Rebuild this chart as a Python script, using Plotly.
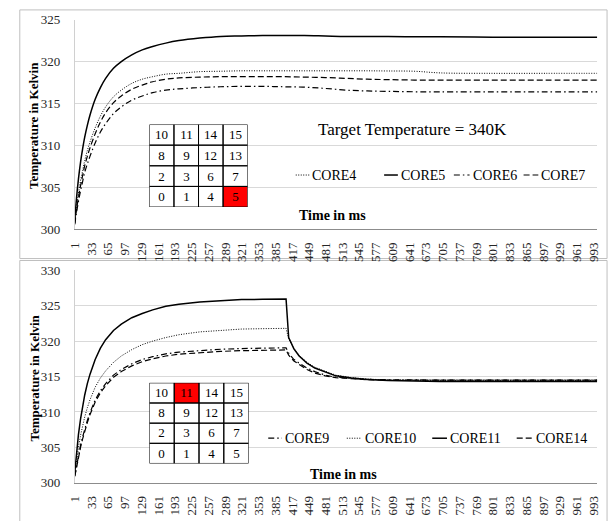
import plotly.graph_objects as go

# ---------------- data ----------------
TICKS = [1, 33, 65, 97, 129, 161, 193, 225, 257, 289, 321, 353, 385, 417, 449, 481,
         513, 545, 577, 609, 641, 673, 705, 737, 769, 801, 833, 865, 897, 929, 961, 993]

# top chart (cores 4-7), sampled times in ms
T_TOP = [1, 4, 8, 12, 16, 20, 25, 30, 40, 50, 60, 75, 90, 110, 130, 150, 175, 200, 240, 280,
         320, 360, 400, 440, 480, 520, 560, 600, 650, 700, 800, 900, 1000]
CORE4 = [300.8, 302.5, 304.3, 305.8, 307.0, 308.2, 309.4, 310.4, 312.1, 313.5,
         314.6, 315.8, 316.6, 317.4, 317.9, 318.2, 318.5, 318.6, 318.8, 318.85,
         318.9, 318.9, 318.9, 318.9, 318.9, 318.9, 318.9, 318.88, 318.85, 318.65,
         318.6, 318.6, 318.6]
CORE5 = [301.0, 303.5, 306.0, 308.0, 309.6, 311.0, 312.4, 313.6, 315.5, 316.9,
         318.0, 319.2, 320.0, 320.8, 321.4, 321.8, 322.2, 322.5, 322.8, 323.0,
         323.05, 323.1, 323.1, 323.1, 323.05, 323.0, 323.0, 323.0, 322.95, 322.95,
         322.9, 322.9, 322.9]
CORE6 = [300.6, 301.9, 303.3, 304.6, 305.7, 306.8, 307.8, 308.7, 310.3, 311.6,
         312.6, 313.8, 314.6, 315.4, 315.9, 316.3, 316.6, 316.75, 316.9, 317.0,
         317.05, 317.05, 317.0, 316.95, 316.8, 316.6, 316.5, 316.45, 316.4, 316.4,
         316.4, 316.4, 316.4]
CORE7 = [300.7, 302.2, 303.8, 305.2, 306.4, 307.6, 308.7, 309.7, 311.4, 312.8,
         313.9, 315.1, 315.9, 316.7, 317.2, 317.6, 317.9, 318.05, 318.15, 318.2,
         318.2, 318.2, 318.2, 318.15, 318.1, 318.0, 317.9, 317.85, 317.8, 317.8,
         317.8, 317.8, 317.8]

# bottom chart (cores 9, 10, 11, 14)
T_BOT = [1, 4, 8, 12, 16, 20, 25, 30, 40, 50, 60, 75, 90, 110, 130, 150, 175, 200, 240, 280,
         320, 360, 400, 405, 410, 420, 430, 445, 460, 480, 500, 530, 560, 600, 650, 700,
         800, 900, 1000]
CORE9 = [301.0, 302.3, 303.9, 305.3, 306.5, 307.6, 308.8, 309.9, 311.7, 313.0,
         314.0, 315.2, 316.0, 316.8, 317.4, 317.8, 318.2, 318.45, 318.7, 318.85,
         318.95, 319.0, 319.05, 319.05, 318.3, 317.4, 316.9, 316.2, 315.7, 315.2,
         314.9, 314.7, 314.6, 314.55, 314.5, 314.5, 314.5, 314.5, 314.5]
CORE10 = [301.2, 303.0, 305.0, 306.7, 308.1, 309.3, 310.6, 311.7, 313.5, 314.8,
          315.8, 317.0, 317.9, 318.8, 319.5, 320.0, 320.5, 320.9, 321.3, 321.5,
          321.7, 321.75, 321.8, 321.8, 320.3, 319.0, 318.0, 317.0, 316.3, 315.7,
          315.2, 314.85, 314.65, 314.5, 314.45, 314.45, 314.45, 314.45, 314.45]
CORE11 = [301.5, 304.0, 306.8, 309.0, 310.8, 312.4, 314.0, 315.3, 317.4, 319.0,
          320.2, 321.5, 322.4, 323.3, 323.9, 324.4, 324.9, 325.2, 325.5, 325.7,
          325.85, 325.9, 325.95, 325.95, 320.5, 318.9, 317.9, 316.9, 316.2, 315.6,
          315.1, 314.8, 314.6, 314.45, 314.35, 314.3, 314.3, 314.3, 314.3]
CORE14 = [300.9, 302.1, 303.6, 305.0, 306.2, 307.3, 308.5, 309.6, 311.4, 312.7,
          313.7, 314.9, 315.7, 316.5, 317.1, 317.5, 317.9, 318.15, 318.4, 318.55,
          318.65, 318.7, 318.75, 318.75, 318.0, 317.2, 316.7, 316.0, 315.5, 315.1,
          314.85, 314.65, 314.55, 314.5, 314.5, 314.5, 314.5, 314.5, 314.5]

GRID_LABELS = [[10, 11, 14, 15], [8, 9, 12, 13], [2, 3, 6, 7], [0, 1, 4, 5]]
HIGHLIGHT_TOP = 5
HIGHLIGHT_BOT = 11

# ---------------- styles ----------------
W, H = 613, 521
FONT = "Liberation Serif"
STY = {
    "CORE4": dict(color="#000", width=1, dash="1px,1.5px"),
    "CORE5": dict(color="#000", width=1.5, dash="solid"),
    "CORE6": dict(color="#000", width=1.2, dash="6px,3px,1.5px,3px"),
    "CORE7": dict(color="#000", width=1.2, dash="6px,3px"),
    "CORE9": dict(color="#000", width=1.2, dash="6px,3px,1.5px,3px"),
    "CORE10": dict(color="#000", width=1, dash="1px,1.5px"),
    "CORE11": dict(color="#000", width=1.5, dash="solid"),
    "CORE14": dict(color="#000", width=1.2, dash="6px,3px"),
}

def px2x(px):
    return px / W

def px2y(py):
    return 1 - py / H

fig = go.Figure()

top_series = [("CORE4", CORE4), ("CORE5", CORE5), ("CORE6", CORE6), ("CORE7", CORE7)]
bot_series = [("CORE9", CORE9), ("CORE10", CORE10), ("CORE11", CORE11), ("CORE14", CORE14)]

for name, vals in top_series:
    fig.add_trace(go.Scatter(x=T_TOP, y=vals, mode="lines", name=name, line=STY[name],
                             line_shape="spline", showlegend=False, xaxis="x", yaxis="y"))
for name, vals in bot_series:
    fig.add_trace(go.Scatter(x=T_BOT, y=vals, mode="lines", name=name, line=STY[name],
                             line_shape="linear", showlegend=False, xaxis="x2", yaxis="y2"))

# inset core grids (heatmaps)
def add_grid(hl, xa, ya):
    z = [[1 if v == hl else 0 for v in row] for row in GRID_LABELS]
    txt = [[str(v) for v in row] for row in GRID_LABELS]
    fig.add_trace(go.Heatmap(z=z, text=txt, texttemplate="%{text}",
                             textfont=dict(family=FONT, size=13, color="#000"),
                             colorscale=[[0, "#ffffff"], [1, "#ff0000"]], zmin=0, zmax=1,
                             showscale=False, hoverinfo="skip", xaxis=xa, yaxis=ya))
    for r in range(4):
        for c in range(4):
            fig.add_shape(type="rect", xref=xa, yref=ya, x0=c - 0.5, x1=c + 0.5,
                          y0=r - 0.5, y1=r + 0.5, line=dict(color="#000", width=1))

add_grid(HIGHLIGHT_TOP, "x3", "y3")
add_grid(HIGHLIGHT_BOT, "x4", "y4")

axis_font = dict(family=FONT, size=13, color="#262626")
xdom = [px2x(68), px2x(600)]
common_x = dict(range=[1, 1000], tickvals=TICKS, ticktext=[str(t) for t in TICKS],
                tickangle=-90, tickfont=axis_font, showgrid=False, zeroline=False,
                showline=True, linecolor="#8c8c8c", linewidth=1, ticks="", domain=xdom,
                ticklabelstandoff=7)
common_y = dict(dtick=5, tickfont=axis_font, showgrid=True, gridcolor="#d9d9d9",
                gridwidth=1, zeroline=False, showline=True, linecolor="#d0d0d0",
                ticks="", ticklabelstandoff=11)

inset_ax = dict(showgrid=False, zeroline=False, showticklabels=False, showline=False,
                fixedrange=True)

fig.update_layout(
    width=W, height=H, margin=dict(l=0, r=0, t=0, b=0),
    font=dict(family=FONT),
    paper_bgcolor="white", plot_bgcolor="rgba(0,0,0,0)",
    xaxis=dict(common_x, anchor="y"),
    yaxis=dict(common_y, range=[300, 325], domain=[px2y(229), px2y(13)], anchor="x"),
    xaxis2=dict(common_x, anchor="y2"),
    yaxis2=dict(common_y, range=[300, 330], domain=[px2y(490), px2y(271)], anchor="x2"),
    xaxis3=dict(inset_ax, range=[-0.5, 3.5], domain=[px2x(144), px2x(244)], anchor="y3"),
    yaxis3=dict(inset_ax, range=[3.5, -0.5], domain=[px2y(206), px2y(121)], anchor="x3"),
    xaxis4=dict(inset_ax, range=[-0.5, 3.5], domain=[px2x(144), px2x(245)], anchor="y4"),
    yaxis4=dict(inset_ax, range=[3.5, -0.5], domain=[px2y(470), px2y(387)], anchor="x4"),
    showlegend=False,
)

# panel borders
fig.add_shape(type="rect", xref="paper", yref="paper", x0=px2x(12), x1=px2x(610),
              y0=px2y(259), y1=px2y(3), line=dict(color="#bfbfbf", width=1), layer="below")
fig.add_shape(type="rect", xref="paper", yref="paper", x0=px2x(12), x1=px2x(610),
              y0=px2y(530), y1=px2y(261), line=dict(color="#bfbfbf", width=1), layer="below")

def txt(text, x, y, size, angle=0, xanchor="center"):
    return dict(text=text, x=px2x(x), y=px2y(y), xref="paper", yref="paper",
                xanchor=xanchor, yanchor="middle", textangle=angle, showarrow=False,
                font=dict(family=FONT, size=size, color="#000"))

ann = []
ann.append(txt("<b>Temperature in Kelvin</b>", 26, 122, 13, angle=-90))
ann.append(txt("<b>Temperature in Kelvin</b>", 26, 382, 13, angle=-90))
ann.append(txt("<b>Time in ms</b>", 330, 215, 14))
ann.append(txt("<b>Time in ms</b>", 342, 481, 14))
ann.append(txt("Target Temperature = 340K", 412, 126, 17))

# legends (line sample + label)
leg_top = [("CORE4", 293, 307), ("CORE5", 383, 397), ("CORE6", 454, 470), ("CORE7", 525, 540)]
leg_bot = [("CORE9", 265, 279), ("CORE10", 345, 360), ("CORE11", 432, 447), ("CORE14", 518, 535)]
for items, yl in ((leg_top, 173), (leg_bot, 444)):
    for name, a, b in items:
        st = STY[name]
        fig.add_shape(type="line", xref="paper", yref="paper", x0=px2x(a), x1=px2x(b),
                      y0=px2y(yl), y1=px2y(yl),
                      line=dict(color="#000", width=st["width"], dash=st["dash"]))
        ann.append(txt(name, b + 1, yl, 14, xanchor="left"))

fig.update_layout(annotations=ann)
fig.write_html("out.html")
